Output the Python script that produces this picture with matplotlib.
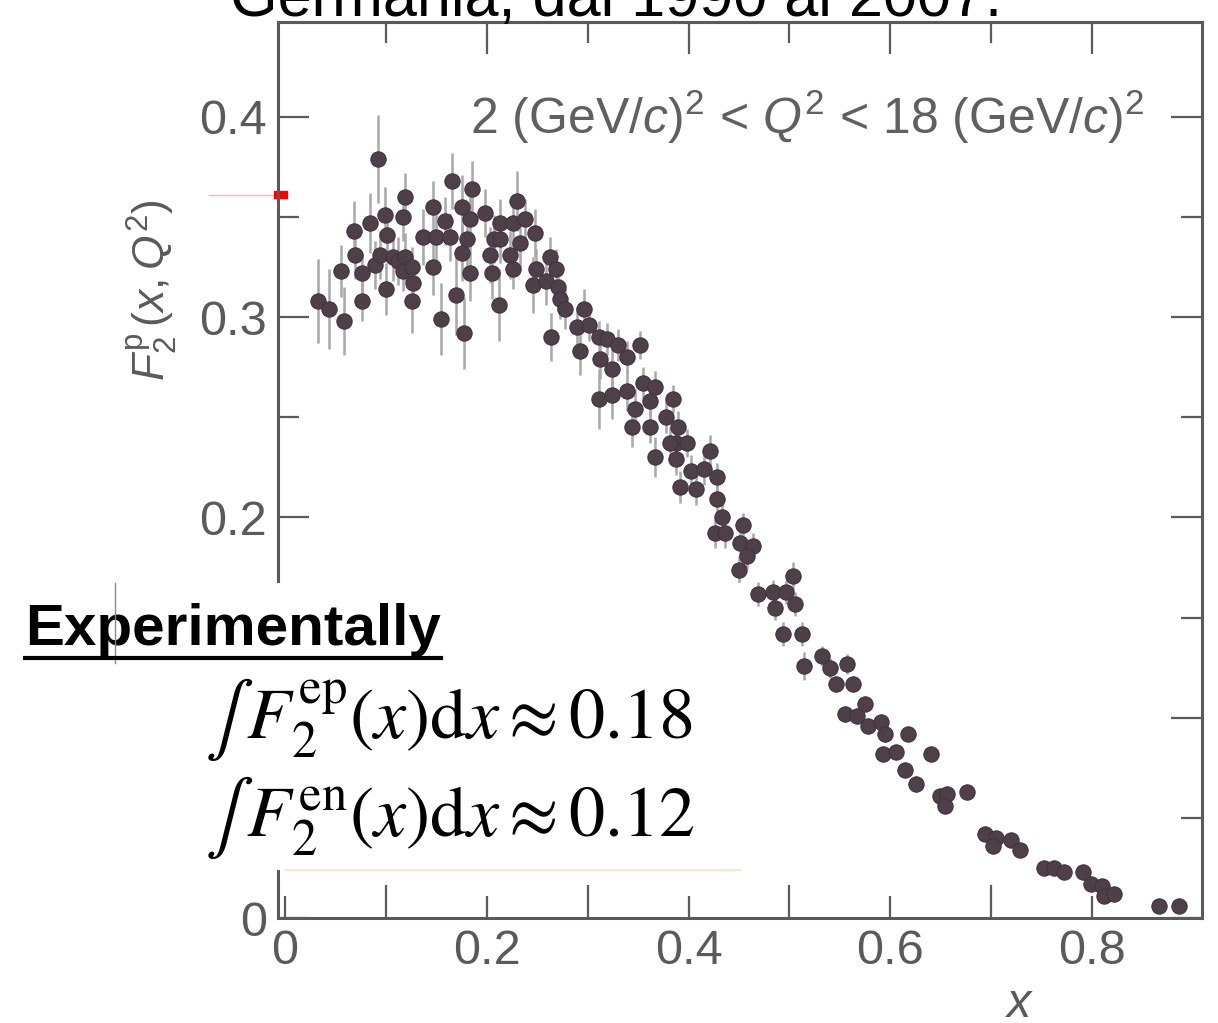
import matplotlib
matplotlib.use("Agg")
import matplotlib.pyplot as plt
from matplotlib.lines import Line2D
from matplotlib.patches import Rectangle
from matplotlib.ticker import FixedLocator

# --- data: x, F2p and the error bar half-length ---
x_vals = [
    0.033, 0.044, 0.058, 0.055, 0.068, 0.069, 0.076, 0.076, 0.084, 0.092,
    0.089, 0.099, 0.101, 0.094, 0.100, 0.107, 0.112, 0.117, 0.119, 0.119,
    0.117, 0.126, 0.127, 0.126, 0.147, 0.137, 0.147, 0.150, 0.159, 0.165,
    0.164, 0.155, 0.169, 0.175, 0.180, 0.175, 0.177, 0.185, 0.183, 0.183,
    0.198, 0.207, 0.205, 0.212, 0.230, 0.213, 0.226, 0.238, 0.248, 0.213,
    0.233, 0.203, 0.223, 0.226, 0.263, 0.249, 0.269, 0.246, 0.259, 0.271,
    0.273, 0.278, 0.296, 0.264, 0.289, 0.301, 0.311, 0.319, 0.292, 0.330,
    0.352, 0.312, 0.324, 0.339, 0.311, 0.324, 0.339, 0.355, 0.367, 0.347,
    0.362, 0.385, 0.344, 0.362, 0.378, 0.390, 0.388, 0.398, 0.382, 0.367,
    0.388, 0.421, 0.402, 0.415, 0.428, 0.392, 0.407, 0.428, 0.433, 0.454,
    0.426, 0.436, 0.451, 0.464, 0.458, 0.450, 0.504, 0.469, 0.484, 0.497,
    0.486, 0.506, 0.494, 0.512, 0.514, 0.532, 0.540, 0.557, 0.546, 0.563,
    0.575, 0.555, 0.567, 0.578, 0.591, 0.595, 0.618, 0.593, 0.606, 0.640,
    0.615, 0.625, 0.649, 0.656, 0.676, 0.654, 0.694, 0.705, 0.702, 0.720,
    0.729, 0.752, 0.762, 0.772, 0.791, 0.799, 0.810, 0.812, 0.822, 0.866,
    0.886,
]
f2_vals = [
    0.308, 0.304, 0.298, 0.323, 0.343, 0.331, 0.322, 0.308, 0.347, 0.379,
    0.326, 0.351, 0.341, 0.331, 0.314, 0.330, 0.328, 0.350, 0.360, 0.330,
    0.323, 0.325, 0.317, 0.308, 0.355, 0.340, 0.325, 0.340, 0.348, 0.368,
    0.340, 0.299, 0.311, 0.355, 0.339, 0.332, 0.292, 0.364, 0.349, 0.322,
    0.352, 0.339, 0.322, 0.306, 0.358, 0.347, 0.347, 0.349, 0.342, 0.339,
    0.337, 0.331, 0.331, 0.324, 0.330, 0.324, 0.324, 0.316, 0.318, 0.315,
    0.309, 0.304, 0.304, 0.290, 0.295, 0.296, 0.290, 0.289, 0.283, 0.286,
    0.286, 0.279, 0.274, 0.280, 0.259, 0.261, 0.263, 0.267, 0.265, 0.254,
    0.258, 0.259, 0.245, 0.245, 0.250, 0.245, 0.237, 0.237, 0.237, 0.230,
    0.229, 0.233, 0.223, 0.224, 0.220, 0.215, 0.214, 0.209, 0.200, 0.196,
    0.192, 0.192, 0.187, 0.186, 0.181, 0.174, 0.171, 0.162, 0.163, 0.163,
    0.155, 0.157, 0.142, 0.142, 0.126, 0.131, 0.125, 0.127, 0.117, 0.117,
    0.107, 0.102, 0.101, 0.096, 0.098, 0.092, 0.092, 0.082, 0.083, 0.082,
    0.074, 0.067, 0.061, 0.062, 0.063, 0.056, 0.042, 0.040, 0.036, 0.039,
    0.034, 0.025, 0.025, 0.023, 0.023, 0.017, 0.016, 0.011, 0.012, 0.006,
    0.006,
]
f2_errs = [
    0.021, 0.020, 0.017, 0.013, 0.015, 0.012, 0.010, 0.010, 0.015, 0.022,
    0.012, 0.014, 0.012, 0.012, 0.013, 0.012, 0.012, 0.012, 0.012, 0.012,
    0.010, 0.010, 0.010, 0.016, 0.013, 0.014, 0.014, 0.012, 0.012, 0.014,
    0.012, 0.018, 0.020, 0.016, 0.014, 0.014, 0.018, 0.014, 0.012, 0.014,
    0.012, 0.012, 0.013, 0.018, 0.015, 0.012, 0.012, 0.010, 0.012, 0.012,
    0.012, 0.014, 0.012, 0.010, 0.010, 0.010, 0.010, 0.014, 0.012, 0.012,
    0.010, 0.010, 0.010, 0.012, 0.010, 0.008, 0.008, 0.008, 0.012, 0.008,
    0.007, 0.010, 0.010, 0.008, 0.015, 0.012, 0.010, 0.008, 0.008, 0.010,
    0.008, 0.007, 0.010, 0.008, 0.008, 0.008, 0.007, 0.007, 0.008, 0.010,
    0.008, 0.008, 0.008, 0.008, 0.007, 0.008, 0.008, 0.007, 0.007, 0.006,
    0.007, 0.007, 0.006, 0.006, 0.006, 0.007, 0.007, 0.006, 0.006, 0.006,
    0.006, 0.006, 0.006, 0.006, 0.007, 0.005, 0.005, 0.005, 0.004, 0.004,
    0.004, 0.004, 0.004, 0.004, 0.004, 0.004, 0.003, 0.003, 0.003, 0.003,
    0.003, 0.004, 0.003, 0.003, 0.003, 0.003, 0.003, 0.003, 0.003, 0.002,
    0.002, 0.002, 0.002, 0.002, 0.002, 0.002, 0.002, 0.002, 0.002, 0.002,
    0.002,
]

y_major = [0, 0.1, 0.2, 0.3, 0.4]
y_labels = ["0", "0.1", "0.2", "0.3", "0.4"]
x_major = [0, 0.2, 0.4, 0.6, 0.8]
x_labels = ["0", "0.2", "0.4", "0.6", "0.8"]

W, H = 1218, 1023
GRAY = "#5a5a5a"

plt.rcParams["font.family"] = ["Liberation Sans", "DejaVu Sans"]
plt.rcParams["mathtext.fontset"] = "custom"
plt.rcParams["mathtext.rm"] = "Liberation Sans"
plt.rcParams["mathtext.it"] = "Liberation Sans:italic"
plt.rcParams["mathtext.bf"] = "Liberation Sans:bold"


def fx(px):
    return px / W


def fy(py):
    return 1 - py / H


fig = plt.figure(figsize=(W / 100, H / 100), dpi=100)
ax = fig.add_axes([fx(278), fy(918), (1202 - 278) / W, (918 - 22) / H])

ax.errorbar(x_vals, f2_vals, yerr=f2_errs, fmt="o", ms=11,
            mfc="#4e3f49", mec="#3f3440", mew=0.8,
            ecolor="#a8a8a8", elinewidth=1.8, capsize=0, zorder=3)

ax.set_xlim(-0.007, 0.909)
ax.set_ylim(0, 0.4474)

for sp in ax.spines.values():
    sp.set_color(GRAY)
    sp.set_linewidth(2.2)

# y axis: same ticks on both sides
ax.set_yticks(y_major)
ax.set_yticklabels(y_labels)
ax.yaxis.set_minor_locator(FixedLocator([0.05, 0.15, 0.25, 0.35]))
ax.tick_params(axis="y", which="both", left=True, right=True, direction="in",
               colors=GRAY, labelsize=35, pad=8, width=1.6)
ax.tick_params(axis="y", which="major", length=22)
ax.tick_params(axis="y", which="minor", length=15)

# x axis bottom: labelled ticks short, odd tenths long
ax.set_xticks(x_major)
ax.set_xticklabels(x_labels)
ax.xaxis.set_minor_locator(FixedLocator([0.1, 0.3, 0.5, 0.7]))
ax.tick_params(axis="x", which="both", top=False, direction="in",
               colors=GRAY, labelsize=35, pad=8, width=1.6)
ax.tick_params(axis="x", which="major", length=16)
ax.tick_params(axis="x", which="minor", length=24)

# top axis: the other way round
sec = ax.secondary_xaxis("top")
sec.set_xticks([0.2, 0.4, 0.6, 0.8])
sec.xaxis.set_minor_locator(FixedLocator([0.1, 0.3, 0.5, 0.7]))
sec.tick_params(axis="x", which="both", direction="in", colors=GRAY,
                labeltop=False, width=1.6)
sec.tick_params(axis="x", which="major", length=23)
sec.tick_params(axis="x", which="minor", length=15)
sec.spines["top"].set_color(GRAY)
sec.spines["top"].set_linewidth(2.2)

# coloured pen marks on a few ticks
for t in ax.yaxis.get_major_ticks():
    if t.get_loc() in (0.1, 0.2):
        t.tick2line.set_color("#b77ad8")
for t in ax.yaxis.get_minor_ticks():
    if abs(t.get_loc() - 0.35) < 1e-6:
        t.tick1line.set_color("#b77ad8")
ytr = ax.get_yaxis_transform()
ax.plot([-0.075, 0], [0.361, 0.361], color="#ffb3b3", lw=1, transform=ytr, clip_on=False)
ax.plot([0, 0.006], [0.361, 0.361], color="red", lw=6, transform=ytr, clip_on=False)

ax.text(0.183, 0.4, r"2 (GeV/$c$)$^2$ < $Q^2$ < 18 (GeV/$c$)$^2$",
        fontsize=36, color="#606060", va="center", ha="left")

fig.text(fx(152), fy(290), r"$F_2^{\mathrm{p}}\,(x,Q^2)$", rotation=90,
         fontsize=32, color=GRAY, ha="center", va="center")
fig.text(fx(1020), fy(1017), r"$x$", fontsize=35, color=GRAY,
         ha="center", va="baseline")

# slide title, cut off at the top
fig.text(fx(230), fy(16), "Germania, dal 1990 al 2007.", fontsize=44,
         color="black", ha="left", va="baseline")

# slide overlay box with the integrals
fig.patches.append(Rectangle((0, fy(870)), fx(745), fy(583) - fy(870),
                             transform=fig.transFigure, facecolor="white",
                             edgecolor="none", zorder=5))
fig.lines.append(Line2D([fx(285), fx(740)], [fy(870), fy(870)],
                        transform=fig.transFigure, color="#fde6cc", lw=1.5, zorder=6))
fig.lines.append(Line2D([fx(115), fx(115)], [fy(583), fy(663)],
                        transform=fig.transFigure, color="#8a8a8a", lw=1, zorder=7))

head = fig.text(fx(25), fy(645), "Experimentally", fontsize=42, fontweight="bold",
                color="black", ha="left", va="baseline", zorder=6)
fig.canvas.draw()
bb = head.get_window_extent(renderer=fig.canvas.get_renderer())
fig.lines.append(Line2D([bb.x0 / W, bb.x1 / W], [(bb.y0 - 1) / H, (bb.y0 - 1) / H],
                        transform=fig.transFigure, color="black", lw=3, zorder=7))

eq_kw = dict(fontsize=52, color="black", ha="left", va="baseline",
             math_fontfamily="stix", zorder=6)
fig.text(fx(205), fy(738), r"$\int\, F_2^{\mathrm{ep}}(x)\mathrm{d}x \approx 0.18$", **eq_kw)
fig.text(fx(205), fy(836), r"$\int\, F_2^{\mathrm{en}}(x)\mathrm{d}x \approx 0.12$", **eq_kw)

fig.savefig("out.png", dpi=100)
